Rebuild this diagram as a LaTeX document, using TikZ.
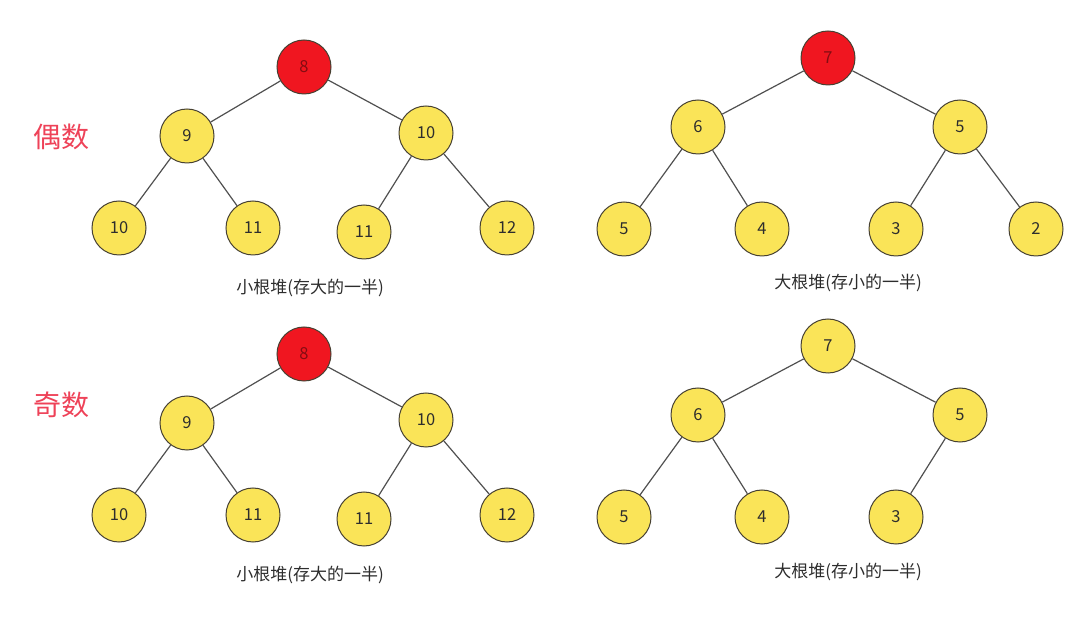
\documentclass[tikz,border=0pt]{standalone}
\usepackage{fontspec}
\setmainfont{Noto Sans CJK SC}
\definecolor{rootred}{RGB}{240,22,32}
\definecolor{heapfill}{RGB}{250,228,88}
\definecolor{rim}{RGB}{70,64,50}
\definecolor{ink}{RGB}{45,45,45}
\definecolor{wire}{RGB}{80,80,80}
\definecolor{tag}{RGB}{238,66,88}
\usetikzlibrary{positioning}

\begin{document}
\begin{tikzpicture}[x=1pt, y=-1pt,
    heapnode/.style={circle, draw=rim, line width=1pt, fill=heapfill, minimum size=54pt,
      inner sep=0pt, text=ink, font=\fontsize{16.5}{16.5}\selectfont},
    toproot/.style={heapnode, fill=rootred, text=rootred!55!black},
    edge/.style={draw=wire, line width=1.2pt},
    caption/.style={text=ink, font=\fontsize{17}{18}\selectfont},
    parity/.style={text=tag, font=\fontsize{28}{30}\selectfont}]
  \useasboundingbox (0,0) rectangle (1080,617);

  % left side: small-root heaps, same in both rows
  \foreach \dy/\t in {0/a, 287/c} {
    \node[toproot]  (\t0) at (304,{67+\dy})  {8};
    \node[heapnode] (\t1) at (187,{136+\dy}) {9};
    \node[heapnode] (\t2) at (426,{133+\dy}) {10};
    \node[heapnode] (\t3) at (119,{228+\dy}) {10};
    \node[heapnode] (\t4) at (253,{228+\dy}) {11};
    \node[heapnode] (\t5) at (364,{232+\dy}) {11};
    \node[heapnode] (\t6) at (507,{228+\dy}) {12};
    \foreach \p/\c in {0/1, 0/2, 1/3, 1/4, 2/5, 2/6}
      \path[edge] (\t\p) -- (\t\c);
    \node[caption] (\t cap) at (310,{288+\dy}) {小根堆(存大的一半)};
  }

  % right side, top row
  \node[toproot]  (b0) at (828,58)  {7};
  \node[heapnode] (b1) at (698,127) {6};
  \node[heapnode] (b2) at (960,127) {5};
  \node[heapnode] (b3) at (624,229) {5};
  \node[heapnode] (b4) at (762,229) {4};
  \node[heapnode] (b5) at (896,229) {3};
  \node[heapnode] (b6) at (1036,229) {2};
  \foreach \p/\c in {0/1, 0/2, 1/3, 1/4, 2/5, 2/6}
    \path[edge] (b\p) -- (b\c);
  \node[caption] (bcap) at (848,283) {大根堆(存小的一半)};

  % right side, bottom row
  \node[heapnode] (d0) at (828,346) {7};
  \node[heapnode] (d1) at (698,415) {6};
  \node[heapnode] (d2) at (960,415) {5};
  \node[heapnode] (d3) at (624,517) {5};
  \node[heapnode] (d4) at (762,517) {4};
  \node[heapnode] (d5) at (896,517) {3};
  \foreach \p/\c in {0/1, 0/2, 1/3, 1/4, 2/5}
    \path[edge] (d\p) -- (d\c);
  \node[caption] (dcap) at (848,572) {大根堆(存小的一半)};

  \node[parity] (even) at (62,137) {偶数};
  \node[parity] (odd)  at (62,405) {奇数};
\end{tikzpicture}
\end{document}
